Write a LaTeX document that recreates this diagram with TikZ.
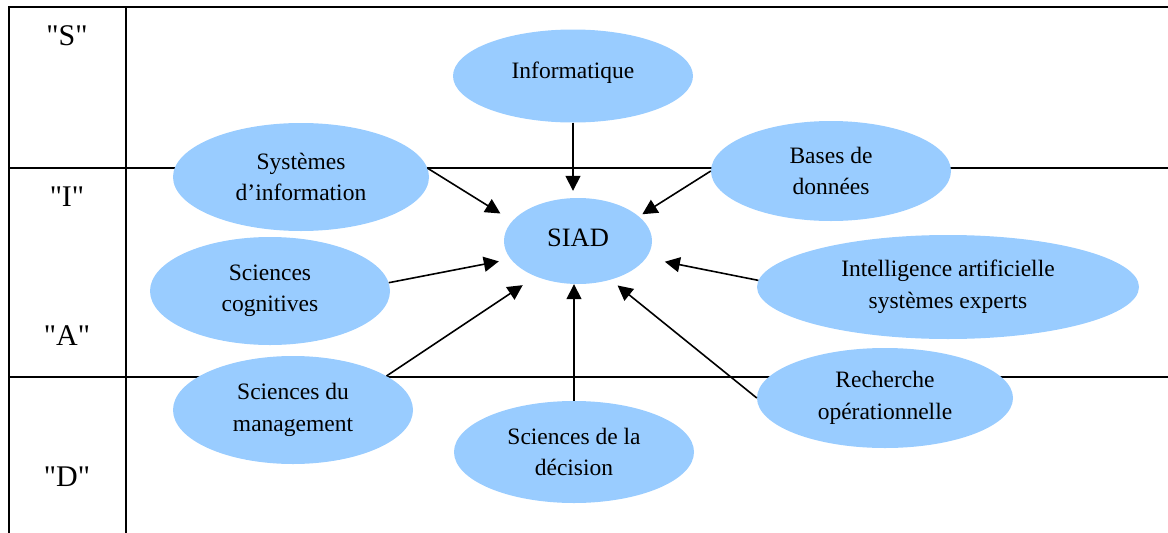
\documentclass[tikz,border=0pt]{standalone}
\usepackage{fontspec}
\setmainfont{Liberation Serif}
\usepackage{tikz}
\usetikzlibrary{shapes.geometric,arrows.meta}
\definecolor{hellblau}{RGB}{153,204,255}

\begin{document}
\begin{tikzpicture}[x=1pt,y=-1pt,
		bulle/.style 2 args={ellipse,fill=hellblau,inner sep=0pt,align=center,
			minimum width=#1,minimum height=#2,font=\fontsize{23.5}{31.5}\selectfont},
		zeile/.style={font=\fontsize{30}{36}\selectfont},
		tabelle/.style={line width=1.6pt},
		pfeil/.style={line width=1.6pt,-{Triangle[length=15pt,width=15pt]}}]
	\useasboundingbox (0,0) rectangle (1168,533);
	% Tabelle
	\draw[tabelle] (9,533) -- (9,7) -- (1168,7);
	\draw[tabelle] (126,7) -- (126,533);
	\draw[tabelle] (9,168) -- (1168,168);
	\draw[tabelle] (9,377) -- (1168,377);
	\node[zeile] (lS) at (67,36) {\textquotedbl S\textquotedbl};
	\node[zeile] (lI) at (67,197) {\textquotedbl I\textquotedbl};
	\node[zeile] (lA) at (67,336) {\textquotedbl A\textquotedbl};
	\node[zeile] (lD) at (67,477) {\textquotedbl D\textquotedbl};
	% Ellipsen
	\node[bulle={240pt}{93pt}] (info) at (573,76) {\raisebox{11pt}{Informatique}};
	\node[bulle={256pt}{108pt}] (sys) at (301,177) {Systèmes\\d’information};
	\node[bulle={240pt}{100pt}] (bases) at (831,171) {Bases de\\données};
	\node[bulle={148pt}{86pt}] (siad) at (578,241) {\raisebox{7pt}{\fontsize{26.5}{30}\selectfont SIAD}};
	\node[bulle={240pt}{108pt}] (cog) at (270,291) {Sciences\\cognitives};
	\node[bulle={382pt}{104pt}] (intel) at (948,287) {Intelligence artificielle\\systèmes experts};
	\node[bulle={240pt}{108pt}] (mgmt) at (293,410) {Sciences du\\management};
	\node[bulle={256pt}{100pt}] (rech) at (885,398) {Recherche\\opérationnelle};
	\node[bulle={240pt}{102pt}] (dec) at (574,452) {Sciences de la\\décision};
	% Pfeile
	\draw[pfeil,shorten >=7pt] (info) -- (info |- siad.north);
	\draw[pfeil,shorten >=14pt] (sys.4) -- (siad.163.5);
	\draw[pfeil,shorten >=4pt] (bases.west) -- (siad.22.3);
	\draw[pfeil,shorten >=12pt] (cog.4) -- (siad.195.8);
	\draw[pfeil,shorten >=19pt] (intel.178) -- (siad.346.2);
	\draw[pfeil,shorten >=15.6pt] (mgmt.20) -- (siad.220.1);
	\draw[pfeil] (dec) -- (dec |- siad.south);
	\draw[pfeil,shorten >=9pt] (rech.west) -- (siad.310.8);
\end{tikzpicture}
\end{document}
